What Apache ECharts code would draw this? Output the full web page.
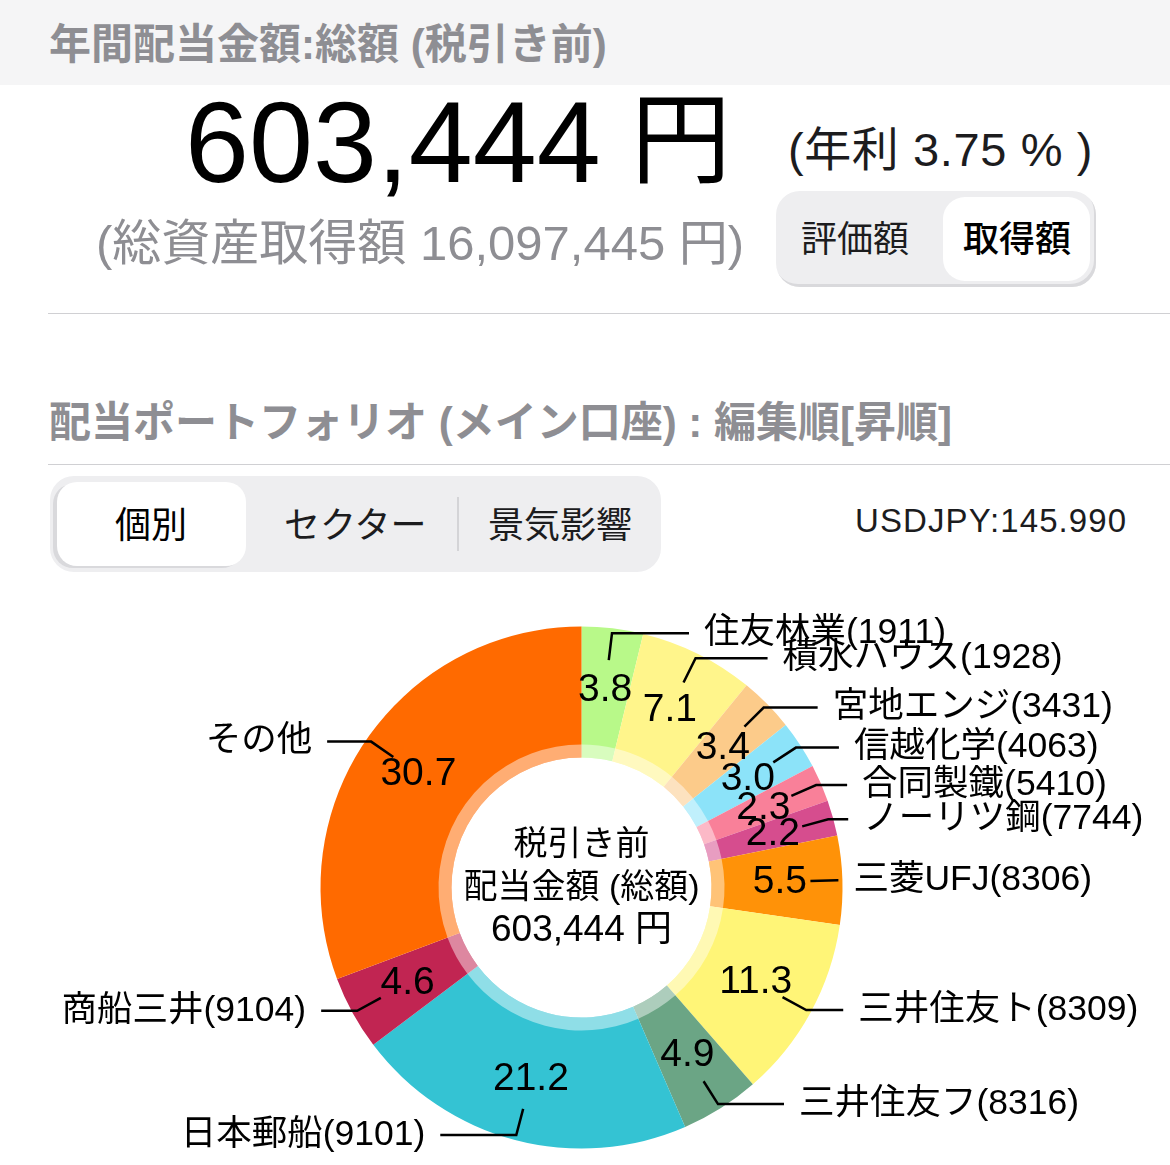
<!DOCTYPE html>
<html><head><meta charset="utf-8">
<script src="https://cdn.jsdelivr.net/npm/echarts@6/dist/echarts.min.js"></script>
<style>
html,body{margin:0;padding:0;background:#fff;width:1170px;height:1165px;overflow:hidden}
body{font-family:"Liberation Sans","Noto Sans CJK JP",sans-serif;position:relative}
.t{position:absolute;white-space:pre;line-height:1}
.g{color:#8e8e93}
.box{position:absolute}
#chart{position:absolute;left:0;top:0;width:1170px;height:1165px}
</style></head><body>
<div class="box" style="left:0;top:0;width:1170px;height:85px;background:#f5f5f6"></div>
<div class="t g" style="left:49px;top:24px;font-size:42px;font-weight:700;">年間配当金額:総額 (税引き前)</div>
<div class="t" style="left:185px;top:85px;font-size:115px;color:#000">603,444</div>
<div class="t" style="left:631px;top:90px;font-size:100px;color:#000">円</div>
<div class="t" style="left:788px;top:126px;font-size:47px;color:#1c1c1e;letter-spacing:0.6px">(年利 3.75 % )</div>
<div class="t g" style="left:96px;top:219px;font-size:49px;">(総資産取得額 16,097,445 円)</div>
<div class="box" style="left:776px;top:191px;width:320px;height:96px;border-radius:24px;background:#eeeef0;box-shadow:inset -2px -3px 0 #d9d9dc"></div>
<div class="box" style="left:943px;top:197px;width:147px;height:84px;border-radius:22px;background:#fff"></div>
<div class="t" style="left:801px;top:222px;font-size:36px;color:#1c1c1e">評価額</div>
<div class="t" style="left:963px;top:222px;font-size:36px;color:#000;font-weight:500">取得額</div>
<div class="box" style="left:48px;top:313px;width:1122px;height:1px;background:#d0d0d3"></div>
<div class="t g" style="left:49px;top:402px;font-size:42px;font-weight:700">配当ポートフォリオ (メイン口座) : 編集順[昇順]</div>
<div class="box" style="left:48px;top:464px;width:1122px;height:1px;background:#d0d0d3"></div>
<div class="box" style="left:50px;top:476px;width:611px;height:96px;border-radius:24px;background:#eeeef0"></div>
<div class="box" style="left:57px;top:482px;width:189px;height:84px;border-radius:20px;background:#fff;box-shadow:-4px 2px 0 #d9d9dc"></div>
<div class="box" style="left:457px;top:497px;width:2px;height:54px;background:#d4d4d7"></div>
<div class="t" style="left:115px;top:508px;font-size:36px;color:#000">個別</div>
<div class="t" style="left:284px;top:508px;font-size:36px;color:#1c1c1e">セクター</div>
<div class="t" style="left:488px;top:508px;font-size:36px;color:#1c1c1e">景気影響</div>
<div class="t" style="left:855px;top:504px;font-size:33px;color:#1c1c1e;letter-spacing:1.1px">USDJPY:145.990</div>
<div id="chart"></div>
<script>
const categories = ["住友林業(1911)","積水ハウス(1928)","宮地エンジ(3431)","信越化学(4063)","合同製鐵(5410)","ノーリツ鋼(7744)","三菱UFJ(8306)","三井住友ト(8309)","三井住友フ(8316)","日本郵船(9101)","商船三井(9104)","その他"];
const shares = [3.8,7.1,3.4,3.0,2.3,2.2,5.5,11.3,4.9,21.2,4.6,30.7];
const sliceColors = ["#b8f989","#fff58b","#fccb8a","#8ce3f9","#f98099","#d64d8e","#ff9208","#fff577","#6ba585","#34c3d3","#c12552","#ff6a00"];
const leaderRun = [77,72,54,43,31,20,1,37,66,76,36,44];
const centerLines = ["税引き前","配当金額 (総額)","603,444 円"];
const centerSizes = [34,34,37];

const center = [581.5,887.5];
const fontFamily = '"Liberation Sans","Noto Sans CJK JP",sans-serif';
const chart = echarts.init(document.getElementById('chart'), null, {renderer:'canvas'});
const base = {type:'pie',center,startAngle:90,clockwise:true,silent:true,animation:false,avoidLabelOverlap:false,emphasis:{disabled:true},labelLayout:{hideOverlap:false}};
chart.setOption({
  backgroundColor:'transparent',
  animation:false,
  series:[
    {...base,z:1,radius:[130,261],labelLine:{show:false},
     label:{show:true,position:'inside',formatter:p=>p.value.toFixed(1),fontSize:39,color:'#000',fontFamily,padding:[8,0,0,0]},
     data:categories.map((name,i)=>({name,value:shares[i],itemStyle:{color:sliceColors[i]}}))},
    {...base,z:2,radius:[130,143],label:{show:false},labelLine:{show:false},
     data:categories.map((name,i)=>({name,value:shares[i],itemStyle:{color:'rgba(255,255,255,0.45)'}}))},
    {...base,z:3,radius:[200,229],
     label:{show:true,position:'outside',formatter:'{b}',fontSize:35.5,color:'#000',fontFamily,distanceToLabelLine:15},
     labelLine:{show:true,length:27,length2:40,minTurnAngle:0,smooth:false,lineStyle:{color:'#000',width:2.5}},
     data:categories.map((name,i)=>({name,value:shares[i],itemStyle:{color:'transparent'},labelLine:{length2:leaderRun[i]}}))}
  ],
  graphic:centerLines.map((text,i)=>({type:'text',x:center[0],y:846+i*42.5,z:10,silent:true,
    style:{text,fill:'#000',font:centerSizes[i]+'px '+fontFamily,align:'center',verticalAlign:'middle'}}))
});
</script>
</body></html>
